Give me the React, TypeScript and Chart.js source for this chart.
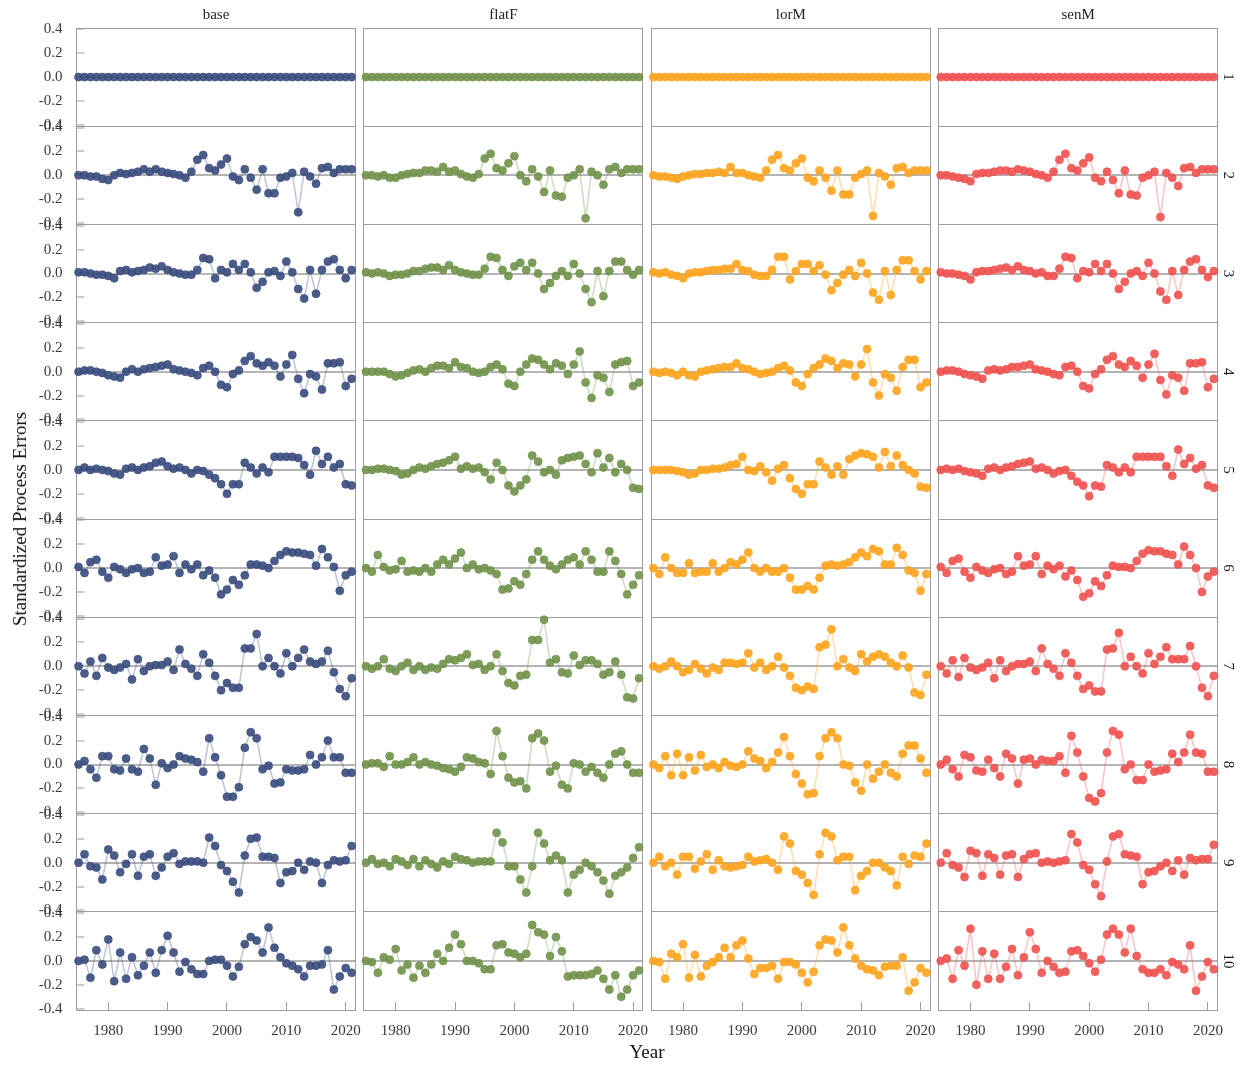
import React, { useEffect, useRef } from "react";
import { Chart, registerables } from "chart.js";
Chart.register(...registerables);

// ---------- data ----------
const YEARS = [1975,1976,1977,1978,1979,1980,1981,1982,1983,1984,1985,1986,1987,1988,1989,1990,1991,1992,1993,1994,1995,1996,1997,1998,1999,2000,2001,2002,2003,2004,2005,2006,2007,2008,2009,2010,2011,2012,2013,2014,2015,2016,2017,2018,2019,2020,2021];
const MODELS = ["base", "flatF", "lorM", "senM"];
const AGE_LABELS = ["1", "2", "3", "4", "5", "6", "7", "8", "9", "10"];
const X_TICKS = [1980, 1990, 2000, 2010, 2020];
const Y_TICKS = [-0.4, -0.2, 0, 0.2, 0.4];

const row1Zeros = [0,0,0,0,0,0,0,0,0,0,0,0,0,0,0,0,0,0,0,0,0,0,0,0,0,0,0,0,0,0,0,0,0,0,0,0,0,0,0,0,0,0,0,0,0,0,0];

const base2 = [0,0,-0.01,-0.01,-0.03,-0.04, 0,0.02,0.01,0.02,0.03,0.05,0.03,0.05,0.03,0.02, 0.01,0,-0.02,0.03,0.13,0.17,0.06,0.04,0.09,0.14, -0.01,-0.04,0.05,-0.02,-0.12,0.05,-0.15,-0.15,-0.02,-0.01, 0.02,-0.31,0.03,-0.01,-0.07,0.06,0.07,0.02,0.05,0.05,0.05];
const flatF2 = [0,0,-0.01,0,-0.02,-0.02, 0,0.01,0.02,0.02,0.04,0.04,0.03,0.07,0.03,0.04, 0.01,-0.01,-0.02,0.01,0.14,0.18,0.06,0.04,0.1,0.16, 0,-0.05,0.05,-0.01,-0.14,0.04,-0.17,-0.18,-0.02,0, 0.05,-0.36,0.03,0,-0.08,0.05,0.07,0.02,0.05,0.05,0.05];
const lorM2 = [0,-0.01,-0.01,-0.02,-0.03,-0.01, 0,0.01,0.01,0.02,0.02,0.03,0.02,0.07,0.02,0.02, 0,-0.01,-0.02,0.04,0.13,0.17,0.06,0.04,0.1,0.14, -0.02,-0.05,0.04,-0.02,-0.13,0.04,-0.16,-0.16,-0.02,0.01, 0.04,-0.34,0.02,-0.01,-0.08,0.06,0.07,0.02,0.04,0.04,0.04];
const senM2 = [0,0,-0.01,-0.02,-0.03,-0.05, 0.01,0.02,0.02,0.03,0.04,0.04,0.03,0.05,0.04,0.03, 0.01,0,-0.02,0.03,0.13,0.18,0.06,0.04,0.1,0.15, -0.02,-0.05,0.03,-0.04,-0.15,0.04,-0.16,-0.17,-0.02,0, 0.03,-0.35,0.02,-0.02,-0.09,0.06,0.07,0.02,0.05,0.05,0.05];

const base3 = [0.01,0.01,0,-0.01,-0.01,-0.02,-0.04,0.02,0.03,0.01, 0.02,0.03,0.05,0.04,0.06,0.03,0.01,0,-0.01,-0.01, 0.03,0.13,0.12, -0.04,0.03,0.01,0.08,0.03,0.08,0.01,-0.12,-0.07,0.01, 0.02,-0.02,0.1,0.01,-0.13,-0.21,0.03,-0.17,0.03,0.1, 0.12,0.03,-0.04,0.03];
const flatF3 = [0.01,0,0.01,0,-0.02,-0.01,-0.01,0,0.02,0.02, 0.04,0.05,0.05,0.03,0.07,0.03,0.01,0,-0.01,-0.01, 0.04,0.14,0.13, 0.03,-0.02,0.06,0.09,0.03,0.09,0,-0.13,-0.08,-0.02, 0.02,-0.02,0.08,0,-0.13,-0.24,0.02,-0.19,0.02,0.1, 0.1,0.03,-0.01,0.03];
const lorM3 = [0.01,0,0.01,-0.01,-0.02,-0.04,0,0.01,0.01,0.02, 0.03,0.03,0.04,0.04,0.08,0.03,0.02,-0.01,-0.02,-0.02, 0.03,0.14,0.14, -0.05,0.02,0.08,0.08,0.02,0.07,-0.01,-0.14,-0.08,-0.01, 0.03,-0.02,0.09,0,-0.16,-0.22,0.02,-0.18,0.03,0.11, 0.11,0.02,-0.05,0.02];
const senM3 = [0.01,0,0,-0.01,-0.02,-0.05,0.01,0.02,0.02,0.03, 0.04,0.05,0.03,0.06,0.03,0.02,0,0.01,-0.02,-0.02, 0.04,0.14,0.13, -0.04,0.02,0.01,0.08,0.02,0.08,0,-0.13,-0.07,0, 0.02,-0.02,0.09,0,-0.15,-0.22,0.02,-0.18,0.03,0.1, 0.12,0.03,-0.03,0.02];

const base4 = [0,0.01,0.01,0,-0.01,-0.03,-0.04,-0.05,0,0.02, 0,0.02,0.03,0.04,0.05,0.06,0.02,0.01,0,-0.01, -0.03,0.03,0.05,0,-0.11,-0.13,-0.02,0.01,0.09,0.13, 0.07,0.05,0.08,0.05,-0.04,0.06,0.14,-0.06,-0.18,-0.02, -0.04,-0.15,0.07,0.07,0.08,-0.12,-0.06];
const flatF4 = [0,0,0,0,-0.02,-0.04,-0.03,-0.01,0.01,0.02, 0,0.03,0.05,0.05,0.03,0.08,0.04,0.03,0,-0.01, 0,0.04,0.06,0.02,-0.1,-0.12,0,0.06,0.11,0.1, 0.06,0.02,0.07,0.05,-0.02,0.06,0.17,-0.09,-0.22,-0.03, -0.05,-0.17,0.06,0.08,0.09,-0.12,-0.09];
const lorM4 = [0,-0.01,0,-0.01,-0.03,0,-0.03,-0.04,0,0.01, 0.02,0.03,0.04,0.04,0.07,0.03,0.02,0,-0.02,-0.01, 0,0.03,0.05,0.01,-0.09,-0.12,-0.02,0.03,0.06,0.11, 0.09,0.03,0.07,0.06,-0.04,0.06,0.19,-0.09,-0.2,-0.02, -0.05,-0.16,0.04,0.1,0.1,-0.13,-0.09];
const senM4 = [0,0.01,0.01,0,-0.02,-0.03,-0.04,-0.06,0.01,0.02, 0.01,0.02,0.04,0.04,0.05,0.06,0.02,0.01,0,-0.02, -0.03,0.04,0.05,0,-0.12,-0.14,-0.02,0.02,0.1,0.13, 0.06,0.04,0.09,0.05,-0.05,0.06,0.15,-0.07,-0.19,-0.03, -0.05,-0.16,0.07,0.07,0.08,-0.13,-0.06];

const base5 = [0,0.02,0,0.01,0,-0.01,-0.03,-0.04,0.01,0.02, 0,0.02,0.03,0.06,0.07,0.03,0.01,0.02,0,-0.03, 0,-0.01,-0.04,-0.07,-0.12,-0.2,-0.12,-0.12,0.06,0.02, -0.03,0.02,-0.02,0.11,0.11,0.11,0.11,0.1,0.04,-0.04, 0.16,0.05,0.11,0.02,0.05,-0.12,-0.13];
const flatF5 = [0,0,0.01,0.01,0,-0.01,-0.04,-0.03,0,0.02, 0.01,0.03,0.05,0.06,0.08,0.11,0.01,0.03,0.01,0.02, -0.02,-0.08,0.06,0,-0.13,-0.18,-0.13,-0.08,0.12,0.07, -0.02,0,-0.04,0.08,0.1,0.11,0.12,0.05,-0.02,0.14, 0.02,0.1,-0.02,0.05,0,-0.15,-0.16];
const lorM5 = [0,0,0,0,-0.01,-0.02,-0.04,-0.03,0,0, 0.01,0.01,0.02,0.04,0.05,0.11,0,-0.01,0.03,-0.02, -0.09,0.01,0.04,-0.07,-0.16,-0.2,-0.12,-0.12,0.07,0.02, -0.04,0.03,-0.04,0.09,0.12,0.14,0.13,0.11,0.02,0.15, 0.03,0.12,0.04,0,-0.03,-0.14,-0.15];
const senM5 = [0,0.01,0,0.01,-0.01,-0.02,-0.03,-0.05,0.01,0.02, 0,0.02,0.03,0.05,0.06,0.07,0.01,0.02,0,-0.03, -0.01,0,-0.05,-0.1,-0.13,-0.22,-0.13,-0.14,0.04,0.02, -0.02,0.02,-0.02,0.11,0.11,0.11,0.11,0.11,0.03,-0.05, 0.17,0.05,0.1,0.01,0.04,-0.13,-0.15];

const base6 = [0.01,-0.04,0.05,0.07,-0.03,-0.08,0.01,-0.01,-0.04,-0.01, 0,-0.04,-0.03,0.09,0.02,0.03,0.1,-0.04,0.03,-0.01, 0.03,-0.06,-0.02,-0.08,-0.22,-0.18,-0.1,-0.14,-0.06,0.03, 0.03,0.02,0,0.06,0.11,0.14,0.13,0.13,0.12,0.11, 0.02,0.16,0.09,0.01,-0.19,-0.06,-0.03];
const flatF6 = [0,-0.03,0.11,0.01,-0.02,-0.01,0.06,-0.03,-0.02,-0.03, 0,-0.03,0.03,0.07,0.03,0.08,0.13,0,0.03,-0.01, 0,-0.02,-0.05,-0.18,-0.17,-0.11,-0.14,-0.05,0.07,0.14, 0.07,0.02,-0.01,0.03,0.07,0.09,0.03,0.14,0.07,-0.03, -0.03,0.14,0.06,-0.05,-0.22,-0.14,-0.06];
const lorM6 = [0,-0.05,0.09,0,-0.04,-0.04,0.04,-0.04,-0.03,-0.03, 0.04,-0.03,0,0.05,0.03,0.07,0.13,0,-0.03,0, -0.03,-0.03,0,-0.08,-0.18,-0.18,-0.15,-0.18,-0.08,0.02, 0.03,0.02,0.03,0.05,0.09,0.13,0.1,0.16,0.14,0.03, 0.03,0.17,0.11,-0.02,-0.04,-0.19,-0.05];
const senM6 = [0.01,-0.04,0.06,0.08,-0.03,-0.08,0.01,-0.02,-0.04,-0.01, 0,-0.05,-0.03,0.1,0.02,0.03,0.1,-0.05,0.02,-0.01, 0.02,-0.07,-0.02,-0.1,-0.24,-0.21,-0.11,-0.15,-0.06,0.02, 0.01,0.01,0,0.06,0.12,0.15,0.14,0.14,0.12,0.11, 0.03,0.18,0.11,0,-0.2,-0.07,-0.03];

const base7 = [0,-0.06,0.04,-0.08,0.07,-0.01,-0.03,-0.01,0.02,-0.11, 0.06,-0.04,0,0.01,0.01,0.04,-0.03,0.14,0.02,-0.02, -0.08,0.1,0.03,-0.08,-0.2,-0.14,-0.18,-0.18,0.15,0.15, 0.27,0,0.07,0,-0.06,0.11,0,0.07,0.14,0.04, 0.02,0.04,0.13,-0.05,-0.19,-0.25,-0.1];
const flatF7 = [0,-0.02,0,0.06,-0.02,-0.04,0,0.03,-0.03,0, -0.03,-0.01,-0.02,0.02,0.06,0.05,0.07,0.1,0.01,0.02, -0.03,0,0.1,-0.04,-0.14,-0.16,-0.08,-0.07,0.22,0.22, 0.39,0.03,0.06,-0.05,-0.06,0.09,0.01,0.05,0.05,0.02, -0.07,-0.05,0.04,-0.07,-0.26,-0.27,-0.1];
const lorM7 = [0,-0.02,0,0.04,0,-0.05,-0.03,0.02,-0.02,-0.06, -0.01,-0.03,0.03,0.03,0.02,0.03,0.11,-0.01,0.03,-0.03, 0,0.08,-0.01,-0.08,-0.18,-0.2,-0.17,-0.19,0.16,0.18, 0.31,0,0.06,-0.01,-0.04,0.1,0.04,0.08,0.1,0.08, 0.03,0,0.09,-0.01,-0.22,-0.24,-0.07];
const senM7 = [0,-0.06,0.05,-0.09,0.07,-0.01,-0.03,-0.01,0.03,-0.1, 0.05,-0.04,0,0.02,0.02,0.04,-0.04,0.15,0.02,-0.02, -0.08,0.11,0.03,-0.08,-0.19,-0.16,-0.21,-0.21,0.14,0.15, 0.28,0,0.08,0,-0.06,0.11,0.02,0.08,0.16,0.06, 0.06,0.06,0.17,0,-0.18,-0.25,-0.08];

const base8 = [0,0.03,-0.04,-0.11,0.07,0.07,-0.04,-0.05,0.05,-0.04, -0.06,0.13,0.05,-0.17,0.01,-0.03,0,0.07,0.05,0.04, 0.02,-0.06,0.22,0.06,-0.09,-0.27,-0.27,-0.19,0.14,0.27, 0.22,-0.04,-0.01,-0.16,-0.15,-0.04,-0.05,-0.05,-0.04,0.08, 0,0.06,0.2,0.06,0.06,-0.07,-0.07];
const flatF8 = [0,0.01,0.01,-0.02,0.07,0,0,0.02,0.06,0, 0.02,0,-0.01,-0.03,-0.04,-0.06,-0.02,0.06,0.05,0.02, 0.01,-0.08,0.28,0.07,-0.11,-0.15,-0.14,-0.2,0.22,0.26, 0.2,-0.06,-0.01,-0.17,-0.2,0.01,0,-0.06,-0.02,-0.07, -0.11,0,0.09,0.11,0,-0.07,-0.07];
const lorM8 = [0,-0.03,0.07,-0.09,0.09,-0.09,0.06,-0.05,0.08,-0.02, 0,-0.03,0.02,-0.01,-0.02,0,0.11,0.05,0.03,-0.03, 0.02,0.1, 0.23,0.07,-0.08,-0.16,-0.25,-0.24,0.07,0.22,0.27,0.22, 0,-0.01,-0.15,-0.22,0,-0.12,-0.06,0,-0.07,-0.1, 0.09,0.16,0.16,0.05,-0.07];
const senM8 = [0,0.04,-0.04,-0.1,0.08,0.06,-0.05,-0.06,0.04,-0.03, -0.1,0.09,0.05,-0.16,0.04,0.05,0,0.04,0.03,0.03, 0.07,-0.07,0.24,0.1,-0.1,-0.28,-0.31,-0.24,0.1,0.28, 0.25,-0.04,0,-0.13,-0.13,0,-0.06,-0.05,-0.04,0.09, 0.02,0.1,0.25,0.1,0.09,-0.06,-0.06];

const base9 = [0,0.07,-0.03,-0.04,-0.14,0.11,0.06,-0.08,-0.01,0.07, -0.11,0.05,0.07,-0.11,-0.04,0.05,0.08,-0.01,0.01,0.01, 0.01,0,0.21,0.14,-0.02,-0.07,-0.16,-0.25,0.06,0.2, 0.21,0.05,0.05,0.04,-0.17,-0.08,-0.07,0,-0.06,0.01, 0,-0.17,-0.02,0.02,0.01,0.02,0.14];
const flatF9 = [0,0.03,-0.01,0,-0.03,0.03,0.01,-0.02,0.03,-0.03, 0.02,-0.01,-0.04,0.01,-0.01,0.05,0.03,0.02,0,0.01, 0.01,0.01,0.25,0.17,-0.03,-0.03,-0.14,-0.25,-0.03,0.25, 0.16,0.02,0.06,0.02,-0.25,-0.1,-0.06,0,-0.03,-0.08, -0.15,-0.26,-0.11,-0.08,-0.04,0.04,0.13];
const lorM9 = [0,0.05,-0.03,0,-0.1,0.05,0.05,-0.05,0.01,0.07, -0.06,0.02,-0.03,-0.04,-0.03,-0.02,0.05,0.01,0.02,0.03, 0,-0.06,0.22,0.16,-0.07,-0.1,-0.17,-0.27,0.07,0.25, 0.22,0.02,0.05,0.05,-0.23,-0.11,-0.07,0,0,-0.04, -0.07,-0.19,0.05,-0.01,0.06,0.05,0.16];
const senM9 = [0,0.08,-0.02,-0.04,-0.12,0.1,0.08,-0.11,0.07,0.04, -0.1,0.06,0.07,-0.12,0.03,0.07,0.08,0,0.01,0, 0.01,0.02,0.24,0.17,-0.02,-0.06,-0.18,-0.28,0.01,0.22, 0.24,0.07,0.06,0.05,-0.18,-0.08,-0.07,-0.03,0,-0.07, 0.02,-0.1,0.04,0.02,0.03,0.03,0.15];

const base10 = [0,0.01,-0.14,0.09,-0.03,0.18,-0.17,0.07,-0.15,0.03, -0.12,-0.04,0.07,-0.1,0.09,0.21,0.07,-0.09,-0.01,-0.07, -0.11,-0.11,0,0.01,0.01,-0.04,-0.13,-0.05,0.14,0.2, 0.17,0.07,0.28,0.11,0.03,-0.02,-0.04,-0.07,-0.13,-0.04, -0.04,-0.03,0.09,-0.24,-0.13,-0.06,-0.1];
const flatF10 = [0,-0.01,-0.1,0.03,0.01,0.1,-0.08,-0.03,-0.14,-0.04, -0.1,-0.03,0.06,0,0.11,0.22,0.14,0,0,-0.02, -0.07,-0.07,0.13,0.14,0.07,0.06,0.03,0.06,0.3,0.24, 0.22,0.04,0.2,0.08,-0.13,-0.12,-0.12,-0.12,-0.11,-0.08, -0.15,-0.24,-0.12,-0.3,-0.24,-0.12,-0.08];
const lorM10 = [0,-0.01,-0.15,0.06,0.03,0.14,-0.14,0.05,-0.13,-0.04, -0.01,0.03,0.11,0.03,0.13,0.17,0.02,-0.11,-0.06,-0.06, -0.04,-0.15,-0.01,-0.01,-0.03,-0.1,-0.18,-0.09,0.13,0.18, 0.17,0.07,0.28,0.13,0.02,-0.04,-0.07,-0.08,-0.12,-0.05, -0.04,-0.04,0.03,-0.25,-0.18,-0.06,-0.1];
const senM10 = [0,0.02,-0.15,0.09,-0.04,0.27,-0.2,0.08,-0.15,0.06, -0.15,-0.05,0.1,-0.12,0.03,0.24,0.1,-0.1,0,-0.05, -0.1,-0.09,0.08,0.09,0.04,-0.02,-0.09,0.01,0.22,0.27, 0.22,0.07,0.27,0.04,-0.07,-0.1,-0.1,-0.07,-0.12,-0.01, -0.03,-0.07,0.13,-0.25,-0.13,-0.01,-0.07];

const SERIES = [
  [row1Zeros, base2, base3, base4, base5, base6, base7, base8, base9, base10],
  [row1Zeros, flatF2, flatF3, flatF4, flatF5, flatF6, flatF7, flatF8, flatF9, flatF10],
  [row1Zeros, lorM2, lorM3, lorM4, lorM5, lorM6, lorM7, lorM8, lorM9, lorM10],
  [row1Zeros, senM2, senM3, senM4, senM5, senM6, senM7, senM8, senM9, senM10],
];

// ---------- styling / layout ----------
const POINT_COLORS = ["rgba(58,77,126,0.9)", "rgba(113,146,74,0.9)", "rgba(253,164,30,0.9)", "rgba(240,82,80,0.9)"];
const LINE_COLORS = ["rgba(58,77,126,0.32)", "rgba(113,146,74,0.32)", "rgba(253,164,30,0.35)", "rgba(240,82,80,0.32)"];
const PAGE_W = 1241;
const PAGE_H = 1068;
const PANEL_LEFT0 = 76.5;
const COL_STEP = 287.4;
const PANEL_W = 279;
const PANEL_TOP0 = 28;
const ROW_STEP = 98.2;
const X_MIN = 1974.65;
const X_MAX = 2021.65;
const Y_LIM = 0.411;
const FRAME = "#9c9c9c";
const ZERO = "#b4b4b4";
const TICK_MARK = "#9c9c9c";
const FONT = "'Liberation Serif', 'Times New Roman', serif";

function Panel({ col, row, values }: { col: number; row: number; values: number[] }) {
  const ref = useRef<HTMLCanvasElement>(null);
  const pl = PANEL_LEFT0 + col * COL_STEP;
  const pr = pl + PANEL_W;
  const pt = PANEL_TOP0 + row * ROW_STEP;
  const pb = pt + ROW_STEP;
  const cx0 = col === 0 ? 0 : Math.floor(pl) - 6;
  const cx1 = col === 3 ? PAGE_W : Math.ceil(pr) + 6;
  const cy0 = row === 0 ? 0 : Math.floor(pt) - 14;
  const cy1 = row === 9 ? PAGE_H : Math.ceil(pb) + 14;
  const w = cx1 - cx0;
  const h = cy1 - cy0;

  useEffect(() => {
    const leftW = pl - cx0;
    const rightW = cx1 - pr;
    const topH = pt - cy0;
    const bottomH = cy1 - pb;
    const fixW = (v: number) => (s: any) => {
      s.width = v;
      s.paddingLeft = 0; s.paddingRight = 0; s.paddingTop = 0; s.paddingBottom = 0;
    };
    const fixH = (v: number) => (s: any) => {
      s.height = v;
      s.paddingLeft = 0; s.paddingRight = 0; s.paddingTop = 0; s.paddingBottom = 0;
    };
    const isBottom = row === 9;
    const isLeft = col === 0;
    const chart = new Chart(ref.current as HTMLCanvasElement, {
      type: "line",
      data: {
        datasets: [
          {
            data: values.map((v, i) => ({ x: YEARS[i], y: v })),
            borderColor: LINE_COLORS[col],
            borderWidth: 1.6,
            pointRadius: 4,
            pointBorderWidth: 0.8,
            pointBackgroundColor: POINT_COLORS[col],
            pointBorderColor: POINT_COLORS[col],
            tension: 0,
            clip: false as any,
          },
        ],
      },
      options: {
        responsive: false,
        animation: false,
        devicePixelRatio: 1,
        events: [],
        layout: { padding: 0 },
        plugins: { legend: { display: false }, tooltip: { enabled: false }, title: { display: false } },
        scales: {
          x: {
            type: "linear",
            position: "bottom",
            min: X_MIN,
            max: X_MAX,
            afterBuildTicks: (s: any) => { s.ticks = X_TICKS.map((v) => ({ value: v })); },
            afterFit: fixH(bottomH),
            ticks: {
              display: isBottom,
              callback: (v: any) => String(v),
              font: { family: FONT, size: 15 },
              color: "#3a3a3a",
              padding: 20,
              maxRotation: 0,
              autoSkip: false,
            },
            grid: {
              display: isBottom,
              drawOnChartArea: false,
              drawTicks: true,
              tickLength: -8,
              tickColor: TICK_MARK,
              tickWidth: 1,
            },
            border: { display: true, color: FRAME, width: 1 },
          },
          x2: {
            type: "linear",
            position: "top",
            min: X_MIN,
            max: X_MAX,
            afterFit: fixH(topH),
            ticks: { display: false },
            grid: { display: false },
            border: { display: true, color: FRAME, width: 1 },
            title: {
              display: row === 0,
              text: MODELS[col],
              font: { family: FONT, size: 15 },
              color: "#1f1f1f",
              padding: { top: 6, bottom: 0 },
            },
          },
          y: {
            type: "linear",
            position: "left",
            min: -Y_LIM,
            max: Y_LIM,
            afterBuildTicks: (s: any) => { s.ticks = Y_TICKS.map((v) => ({ value: v })); },
            afterFit: fixW(leftW),
            ticks: {
              display: isLeft,
              callback: (v: any) => Number(v).toFixed(1),
              font: { family: FONT, size: 15 },
              color: "#3a3a3a",
              padding: 22,
              autoSkip: false,
            },
            grid: {
              display: true,
              drawOnChartArea: true,
              drawTicks: isLeft,
              tickLength: -8,
              color: (c: any) => (c.tick && c.tick.value === 0 ? ZERO : "rgba(0,0,0,0)"),
              lineWidth: (c: any) => (c.tick && c.tick.value === 0 ? 2 : 0),
              tickColor: TICK_MARK,
              tickWidth: 1,
            },
            border: { display: true, color: FRAME, width: 1 },
          },
          y2: {
            type: "linear",
            position: "right",
            min: -Y_LIM,
            max: Y_LIM,
            afterFit: fixW(rightW),
            ticks: { display: false },
            grid: { display: false },
            border: { display: true, color: FRAME, width: 1 },
            title: {
              display: col === 3,
              text: AGE_LABELS[row],
              font: { family: FONT, size: 15 },
              color: "#1f1f1f",
              padding: { top: 4, bottom: 0 },
            },
          },
        },
      } as any,
    });
    return () => chart.destroy();
  }, []);

  return (
    <canvas
      ref={ref}
      width={w}
      height={h}
      style={{ position: "absolute", left: cx0, top: cy0, width: w, height: h }}
    />
  );
}

export default function App() {
  return (
    <div style={{ position: "absolute", left: 0, top: 0, width: PAGE_W, height: PAGE_H, background: "#ffffff", overflow: "hidden" }}>
      {SERIES.map((rows, c) =>
        rows.map((vals, r) => <Panel key={`${c}-${r}`} col={c} row={r} values={vals} />)
      )}
      <div
        style={{
          position: "absolute",
          left: 20,
          top: 519,
          transform: "translate(-50%, -50%) rotate(-90deg)",
          font: `19px ${FONT}`,
          color: "#111",
          whiteSpace: "nowrap",
        }}
      >
        Standardized Process Errors
      </div>
      <div
        style={{
          position: "absolute",
          left: 647,
          top: 1052,
          transform: "translate(-50%, -50%)",
          font: `19px ${FONT}`,
          color: "#111",
          whiteSpace: "nowrap",
        }}
      >
        Year
      </div>
    </div>
  );
}
